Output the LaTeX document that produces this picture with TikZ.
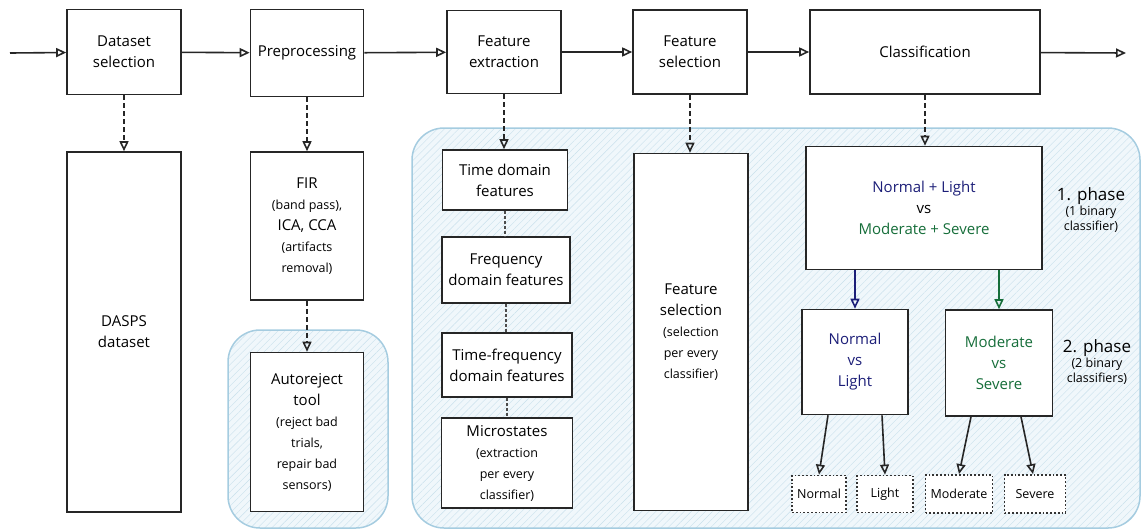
\documentclass[tikz,border=0pt]{standalone}
\usepackage{fontspec}
\setmainfont{Open Sans}
\usepackage{tikz}
\usetikzlibrary{arrows.meta}
\usetikzlibrary{patterns.meta}

\definecolor{darknavy}{RGB}{28,30,120}
\definecolor{darkgreen}{RGB}{22,110,58}
\definecolor{skyline}{RGB}{165,204,224}
\definecolor{skyfill}{RGB}{240,247,251}

\newcommand{\subtext}[1]{{\fontsize{12.5}{21}\selectfont #1}}

\tikzset{
  stage/.style={draw=black!85, line width=1.6pt, fill=white, align=center, inner sep=2pt, font=\fontsize{15}{21}\selectfont},
  outcome/.style={draw=black!80, dotted, line width=1.8pt, fill=white, inner sep=1pt, font=\fontsize{12.5}{14}\selectfont},
  flow/.style={-{Triangle[open,length=10pt,width=9pt]}, line width=1.6pt, draw=black!85},
  refine/.style={flow, dash pattern=on 5pt off 3pt},
  link/.style={line width=1.3pt, draw=black!70, dash pattern=on 3pt off 2pt},
  group/.style={draw=skyline, line width=1.5pt, rounded corners=32pt, preaction={fill=skyfill}, pattern={Lines[angle=45,distance=5pt,line width=0.4pt]}, pattern color=skyline!60},
  note/.style={align=center, font=\fontsize{12.5}{15}\selectfont}
}

\begin{document}
\begin{tikzpicture}[x=1pt, y=-1pt]

\useasboundingbox (0,0) rectangle (1148,531);

\draw[group] (228,330) rectangle (388,528);
\draw[group] (412,128) rectangle (1140,528);

\node[stage, minimum width=114pt, minimum height=85pt] (dsel) at (124,52) {Dataset\\selection};
\node[stage, minimum width=113pt, minimum height=87pt] (prep) at (307,53) {Preprocessing};
\node[stage, minimum width=114pt, minimum height=83pt] (fext) at (504,52) {Feature\\extraction};
\node[stage, minimum width=114pt, minimum height=84pt] (fsel) at (690,52) {Feature\\selection};
\node[stage, minimum width=230pt, minimum height=84pt] (clf) at (925,52) {Classification};

\coordinate (in) at (10,53);
\coordinate (out) at (1126,53);

\draw[flow] (in) -- (dsel);
\draw[flow] (dsel) -- (prep);
\draw[flow] (prep) -- (fext);
\draw[flow] (fext) -- (fsel);
\draw[flow] (fsel) -- (clf);
\draw[flow] (clf) -- (out);

\node[stage, minimum width=114pt, minimum height=360pt] (dasps) at (124,332) {DASPS\\dataset};

\node[stage, minimum width=113pt, minimum height=148pt] (fir) at (307,226) {FIR\\\subtext{(band pass),}\\ICA, CCA\\\subtext{(artifacts}\\\subtext{removal)}};
\node[stage, minimum width=113pt, minimum height=159pt] (arej) at (307,432) {Autoreject\\tool\\\subtext{(reject bad}\\\subtext{trials,}\\\subtext{repair bad}\\\subtext{sensors)}};

\node[stage, minimum width=125pt, minimum height=60pt] (tdom) at (505,180) {Time domain\\features};
\node[stage, minimum width=128pt, minimum height=66pt] (fdom) at (506,270) {Frequency\\domain features};
\node[stage, minimum width=130pt, minimum height=64pt] (tfdom) at (507,365) {Time-frequency\\domain features};
\node[stage, minimum width=131pt, minimum height=90pt] (micro) at (507,463) {Microstates\\\subtext{(extraction}\\\subtext{per every}\\\subtext{classifier)}};

\node[stage, minimum width=114pt, minimum height=357pt] (fbox) at (691,332) {Feature\\selection\\\subtext{(selection}\\\subtext{per every}\\\subtext{classifier)}};

\node[stage, minimum width=236pt, minimum height=123pt] (phase1) at (924,208) {\textcolor{darknavy}{Normal + Light}\\vs\\\textcolor{darkgreen}{Moderate + Severe}};
\node[stage, minimum width=106pt, minimum height=105pt] (nvl) at (855,362) {\textcolor{darknavy}{Normal}\\\textcolor{darknavy}{vs}\\\textcolor{darknavy}{Light}};
\node[stage, minimum width=107pt, minimum height=106pt] (mvs) at (999,363) {\textcolor{darkgreen}{Moderate}\\\textcolor{darkgreen}{vs}\\\textcolor{darkgreen}{Severe}};

\node[outcome, minimum width=54pt, minimum height=37pt] (rnormal) at (819,494) {Normal};
\node[outcome, minimum width=56pt, minimum height=37pt] (rlight) at (885,494) {Light};
\node[outcome, minimum width=67pt, minimum height=38pt] (rmoderate) at (959,494) {Moderate};
\node[outcome, minimum width=61pt, minimum height=38pt] (rsevere) at (1035,494) {Severe};

\node[note] (ph1) at (1091,210) {{\fontsize{17}{19}\selectfont 1. phase}\\(1 binary\\classifier)};
\node[note] (ph2) at (1097,362) {{\fontsize{17}{19}\selectfont 2. phase}\\(2 binary\\classifiers)};

\draw[refine] (dsel.south) -- (dasps.north);
\draw[refine] (prep.south) -- (fir.north);
\draw[refine] (fir.south) -- (arej.north);
\draw[refine] (fext.south) -- (fext.south |- tdom.north);
\draw[refine] (fsel.south) -- (fsel.south |- fbox.north);
\draw[refine] (clf.south) -- (clf.south |- phase1.north);

\draw[link] (tdom.south) -- (tdom.south |- fdom.north);
\draw[link] (fdom.south) -- (fdom.south |- tfdom.north);
\draw[link] (tfdom.south) -- (tfdom.south |- micro.north);

\draw[flow, draw=darknavy] (phase1.south -| nvl) -- (nvl.north);
\draw[flow, draw=darkgreen] (phase1.south -| mvs.north) -- (mvs.north);

\draw[flow] ([xshift=-27pt]nvl.south) -- (rnormal.north);
\draw[flow] ([xshift=27pt]nvl.south) -- (rlight.north);
\draw[flow] ([xshift=-28pt]mvs.south) -- (rmoderate.north);
\draw[flow] ([xshift=22pt]mvs.south) -- ([xshift=-2pt]rsevere.north);

\end{tikzpicture}
\end{document}
